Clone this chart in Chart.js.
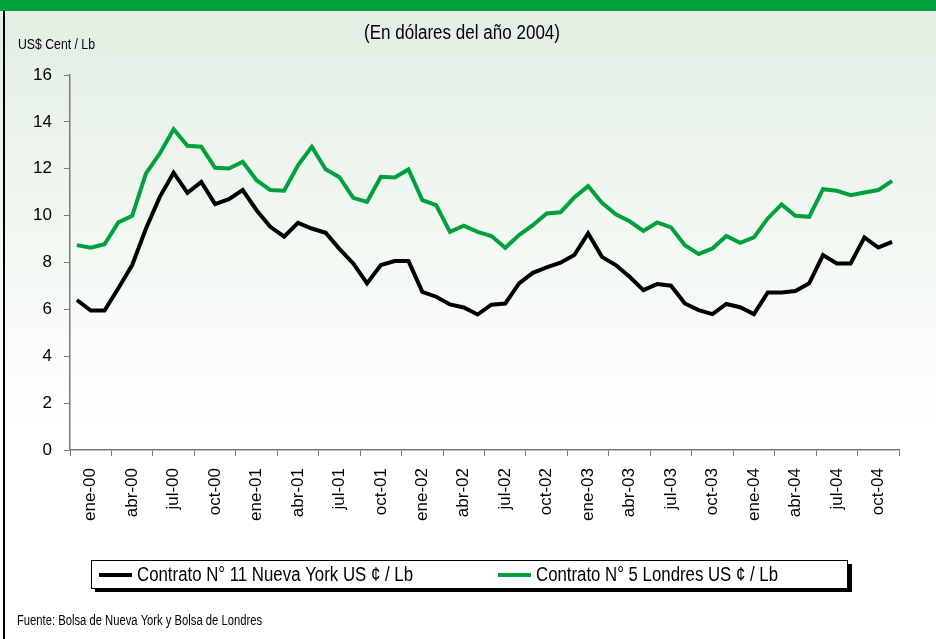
<!DOCTYPE html>
<html>
<head>
<meta charset="utf-8">
<script src="https://cdn.jsdelivr.net/npm/chart.js@4"></script>
<style>
  html, body { margin: 0; padding: 0; background: #fff; }
  canvas { display: block; }
</style>
</head>
<body>
<canvas id="chart" width="936" height="639"></canvas>
<script>
// meses (categorias)
const monthNames = ['ene', 'feb', 'mar', 'abr', 'may', 'jun', 'jul', 'ago', 'sep', 'oct', 'nov', 'dic'];
const years = ['00', '01', '02', '03', '04'];
const months = [];
years.forEach(y => monthNames.forEach(m => months.push(m + '-' + y)));

// etiquetas del eje x (cada 3 meses)
const tickLabels = [
  'ene-00', 'abr-00', 'jul-00', 'oct-00',
  'ene-01', 'abr-01', 'jul-01', 'oct-01',
  'ene-02', 'abr-02', 'jul-02', 'oct-02',
  'ene-03', 'abr-03', 'jul-03', 'oct-03',
  'ene-04', 'abr-04', 'jul-04', 'oct-04'
];

// Contrato N° 11 Nueva York (US$ cent / lb)
const nuevaYork = [
  6.40, 5.95, 5.95, 6.90, 7.89, 9.45, 10.80, 11.83, 10.97, 11.44, 10.49, 10.70,
  11.09, 10.23, 9.52, 9.10, 9.69, 9.45, 9.27, 8.58, 7.96, 7.11, 7.89, 8.06,
  8.06, 6.75, 6.54, 6.21, 6.08, 5.78, 6.20, 6.25, 7.11, 7.56, 7.79, 7.99,
  8.32, 9.24, 8.24, 7.89, 7.39, 6.82, 7.08, 7.01, 6.25, 5.97, 5.80, 6.23,
  6.09, 5.80, 6.72, 6.72, 6.78, 7.11, 8.32, 7.96, 7.96, 9.07, 8.64, 8.88
];

// Contrato N° 5 Londres (US$ cent / lb)
const londres = [
  8.74, 8.63, 8.78, 9.71, 9.99, 11.80, 12.65, 13.69, 12.98, 12.94, 12.04, 12.01,
  12.30, 11.51, 11.09, 11.06, 12.15, 12.94, 11.98, 11.64, 10.76, 10.59, 11.66, 11.63,
  11.97, 10.66, 10.45, 9.31, 9.57, 9.31, 9.13, 8.63, 9.17, 9.59, 10.09, 10.14,
  10.78, 11.26, 10.55, 10.06, 9.76, 9.35, 9.71, 9.50, 8.74, 8.36, 8.60, 9.13,
  8.84, 9.07, 9.88, 10.48, 9.99, 9.95, 11.13, 11.06, 10.87, 10.99, 11.09, 11.48
];

const seriesNames = ['Contrato N° 11 Nueva York US ¢ / Lb', 'Contrato N° 5 Londres US ¢ / Lb'];

const GREEN = '#00a03e';
const AXIS = '#7a7a7a';
const NARROW = "'Liberation Sans Narrow', 'Arial Narrow', 'Liberation Sans', sans-serif";

function text(ctx, str, x, y, size, maxW, align) {
  ctx.font = size + 'px ' + NARROW;
  ctx.fillStyle = '#000';
  ctx.textAlign = align || 'left';
  ctx.textBaseline = 'middle';
  ctx.fillText(str, x, y, maxW);
}

const decor = {
  id: 'decor',
  beforeDraw(chart) {
    const ctx = chart.ctx;
    const w = chart.width, h = chart.height;
    ctx.save();
    ctx.fillStyle = '#fff';
    ctx.fillRect(0, 0, w, h);
    const g = ctx.createLinearGradient(0, 11, 0, 430);
    g.addColorStop(0, '#e3efe3');
    g.addColorStop(1, '#ffffff');
    ctx.fillStyle = g;
    ctx.fillRect(0, 11, w, 420);
    ctx.fillStyle = GREEN;
    ctx.fillRect(0, 0, w, 11);
    ctx.fillStyle = '#000';
    ctx.fillRect(3, 11, 2, h - 11);
    ctx.restore();
  },
  afterDraw(chart) {
    const ctx = chart.ctx;
    ctx.save();
    text(ctx, '(En dólares del año 2004)', 462, 33, 20, 196, 'center');
    text(ctx, 'US$ Cent / Lb', 18, 45, 15, 77);

    // leyenda
    ctx.fillStyle = '#000';
    ctx.fillRect(95, 564, 757, 28);
    ctx.fillStyle = '#fff';
    ctx.fillRect(91.5, 560.5, 756, 28);
    ctx.strokeStyle = '#000';
    ctx.lineWidth = 1;
    ctx.strokeRect(91.5, 560.5, 756, 28);

    ctx.lineWidth = 4;
    ctx.strokeStyle = '#000';
    ctx.beginPath(); ctx.moveTo(99, 575); ctx.lineTo(132, 575); ctx.stroke();
    ctx.strokeStyle = GREEN;
    ctx.beginPath(); ctx.moveTo(498, 575); ctx.lineTo(531, 575); ctx.stroke();
    text(ctx, seriesNames[0], 137, 575, 20, 276);
    text(ctx, seriesNames[1], 536, 575, 20, 242);

    text(ctx, 'Fuente: Bolsa de Nueva York y Bolsa de Londres', 17, 621, 14, 245);
    ctx.restore();
  }
};

new Chart(document.getElementById('chart').getContext('2d'), {
  type: 'line',
  data: {
    labels: months,
    datasets: [
      {
        label: seriesNames[0],
        data: nuevaYork,
        borderColor: '#000',
        borderWidth: 4,
        pointRadius: 0,
        tension: 0,
        fill: false
      },
      {
        label: seriesNames[1],
        data: londres,
        borderColor: GREEN,
        borderWidth: 4,
        pointRadius: 0,
        tension: 0,
        fill: false
      }
    ]
  },
  options: {
    responsive: false,
    animation: false,
    devicePixelRatio: 1,
    layout: { padding: { top: 75, right: 37, bottom: 0, left: 0 } },
    plugins: {
      legend: { display: false },
      title: { display: false },
      tooltip: { enabled: false }
    },
    scales: {
      x: {
        type: 'category',
        offset: true,
        afterFit(scale) { scale.height = 189; },
        grid: {
          offset: true,
          drawOnChartArea: false,
          drawTicks: true,
          tickLength: 6,
          tickColor: c => (c.index === undefined || c.index % 3 === 0) ? AXIS : 'rgba(0,0,0,0)'
        },
        border: { color: AXIS, width: 1.5 },
        ticks: {
          autoSkip: false,
          maxRotation: 90,
          minRotation: 90,
          padding: 12,
          color: '#000',
          font: { family: "'Liberation Sans', Arial, sans-serif", size: 17 },
          callback: (v, i) => (i % 3 === 1 ? tickLabels[(i - 1) / 3] : '')
        }
      },
      y: {
        min: 0,
        max: 16,
        afterFit(scale) { scale.width = 70; },
        grid: {
          drawOnChartArea: false,
          drawTicks: true,
          tickLength: 6,
          tickColor: AXIS
        },
        border: { color: AXIS, width: 1.5 },
        ticks: {
          stepSize: 2,
          padding: 12,
          color: '#000',
          font: { family: "'Liberation Sans', Arial, sans-serif", size: 17 }
        }
      }
    }
  },
  plugins: [decor]
});
</script>
</body>
</html>
